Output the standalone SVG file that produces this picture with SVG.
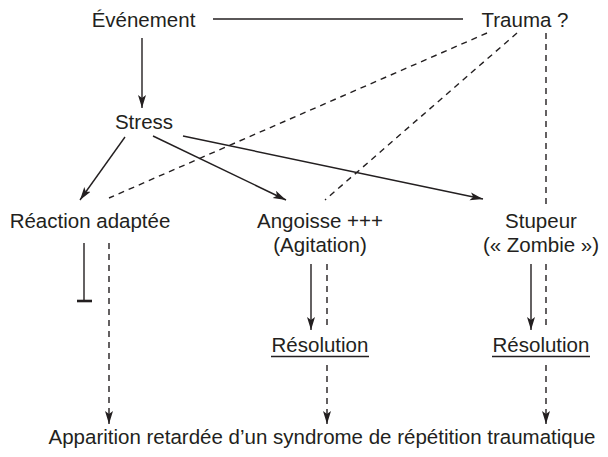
<svg xmlns="http://www.w3.org/2000/svg" width="608" height="457" viewBox="0 0 608 457">
<style>
text{font-family:"Liberation Sans",Arial,sans-serif;font-size:20.5px;fill:#231f20;text-anchor:middle}
.s{stroke:#231f20;stroke-width:1.4;fill:none}
.d{stroke:#231f20;stroke-width:1.4;fill:none;stroke-dasharray:6 5}
</style>
<defs>
<marker id="ah" markerUnits="userSpaceOnUse" markerWidth="14" markerHeight="10" refX="13" refY="4" orient="auto">
<path d="M0,0 L13,4 L0,8 L3,4 Z" fill="#231f20"/>
</marker>
</defs>
<rect width="608" height="457" fill="#fff"/>
<g id="connectors">
<line class="s" x1="213" y1="19" x2="463" y2="19"/>
<line class="s" x1="142" y1="38" x2="142" y2="108" marker-end="url(#ah)"/>
<line class="s" x1="125" y1="137" x2="80" y2="200" marker-end="url(#ah)"/>
<line class="s" x1="153" y1="136" x2="286" y2="200" marker-end="url(#ah)"/>
<line class="s" x1="183" y1="136" x2="483" y2="199" marker-end="url(#ah)"/>
<line class="d" x1="487" y1="33" x2="109" y2="198"/>
<line class="d" x1="517" y1="33" x2="325" y2="200"/>
<line class="d" x1="546" y1="33" x2="546" y2="205"/>
<line class="s" x1="84" y1="243" x2="84" y2="301"/>
<line x1="77" y1="301" x2="92" y2="301" stroke="#231f20" stroke-width="2.6"/>
<line class="d" x1="109" y1="243" x2="109" y2="424" marker-end="url(#ah)"/>
<line class="s" x1="311" y1="264" x2="311" y2="330" marker-end="url(#ah)"/>
<line class="d" x1="327" y1="264" x2="327" y2="326"/>
<line class="d" x1="327" y1="365" x2="327" y2="424" marker-end="url(#ah)"/>
<line class="s" x1="531" y1="264" x2="531" y2="330" marker-end="url(#ah)"/>
<line class="d" x1="546" y1="264" x2="546" y2="326"/>
<line class="d" x1="546" y1="365" x2="546" y2="424" marker-end="url(#ah)"/>
</g>
<g id="evenement"><text x="143.5" y="27">Événement</text></g>
<g id="trauma"><text x="525" y="27">Trauma ?</text></g>
<g id="stress"><text x="144" y="129">Stress</text></g>
<g id="reaction"><text x="90" y="228">Réaction adaptée</text></g>
<g id="angoisse"><text x="320" y="228">Angoisse +++</text><text x="320" y="252">(Agitation)</text></g>
<g id="stupeur"><text x="541" y="228">Stupeur</text><text x="541" y="252">(« Zombie »)</text></g>
<g id="resolution1"><text x="320" y="352">Résolution</text><line class="s" x1="271" y1="356.5" x2="369" y2="356.5"/></g>
<g id="resolution2"><text x="541" y="352">Résolution</text><line class="s" x1="492" y1="356.5" x2="590" y2="356.5"/></g>
<g id="apparition"><text x="322" y="444">Apparition retardée d’un syndrome de répétition traumatique</text></g>
</svg>
